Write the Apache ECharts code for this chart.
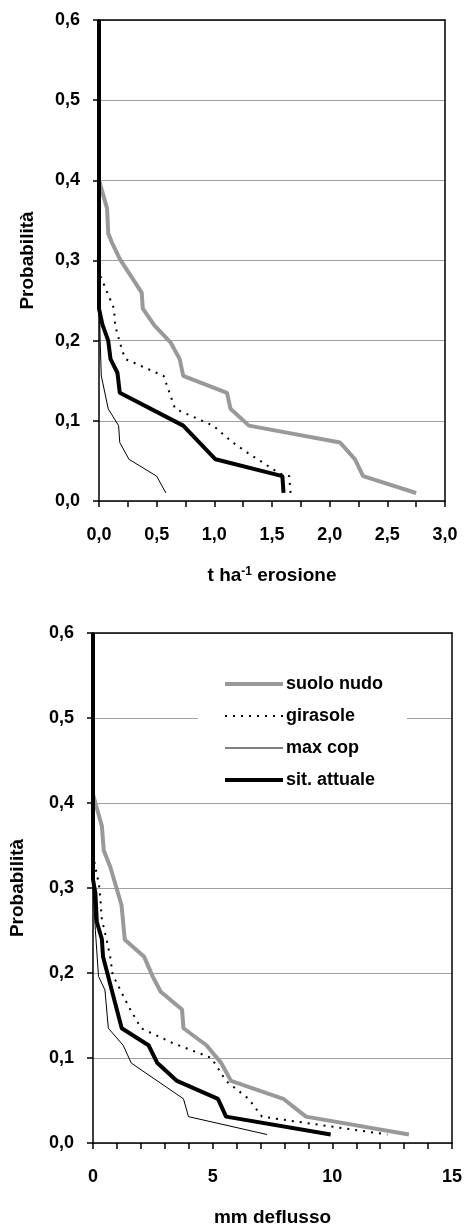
<!DOCTYPE html>
<html>
<head>
<meta charset="utf-8">
<script src="https://cdn.jsdelivr.net/npm/echarts@6/dist/echarts.min.js"></script>
<style>
    html, body { margin: 0; padding: 0; background: #fff; }
    #chart-main { width: 466px; height: 1228px; }
</style>
</head>
<body>
<div id="chart-main"></div>
<script>
// serie nomi (legenda)
var seriesNames = ["suolo nudo", "girasole", "max cop", "sit. attuale"];

// grafico 1: t ha-1 erosione / probabilita
var erosioneSuoloNudo = [[0, 0.40], [0.03, 0.385], [0.07, 0.365], [0.08, 0.334], [0.11, 0.323], [0.18, 0.302], [0.37, 0.26], [0.38, 0.24], [0.48, 0.219], [0.62, 0.198], [0.70, 0.177], [0.73, 0.156], [1.11, 0.135], [1.14, 0.115], [1.30, 0.094], [2.09, 0.073], [2.22, 0.052], [2.29, 0.031], [2.75, 0.010]];
var erosioneGirasole = [[0, 0.29], [0.01, 0.281], [0.04, 0.271], [0.13, 0.24], [0.14, 0.219], [0.20, 0.188], [0.23, 0.177], [0.56, 0.156], [0.66, 0.115], [0.99, 0.094], [1.16, 0.073], [1.29, 0.06], [1.57, 0.034], [1.65, 0.031], [1.66, 0.010]];
var erosioneMaxCop = [[0, 0.28], [0.01, 0.20], [0.02, 0.156], [0.08, 0.115], [0.17, 0.094], [0.18, 0.073], [0.26, 0.052], [0.50, 0.031], [0.58, 0.010]];
var erosioneSitAttuale = [[0, 0.6], [0, 0.24], [0.03, 0.22], [0.08, 0.20], [0.10, 0.177], [0.16, 0.16], [0.18, 0.135], [0.73, 0.094], [1.01, 0.052], [1.59, 0.031], [1.60, 0.010]];

// grafico 2: mm deflusso / probabilita
var deflussoSuoloNudo = [[0, 0.44], [0, 0.41], [0.1, 0.40], [0.37, 0.373], [0.45, 0.344], [0.72, 0.325], [1.19, 0.28], [1.33, 0.239], [2.14, 0.219], [2.49, 0.196], [2.83, 0.178], [3.72, 0.157], [3.78, 0.135], [4.74, 0.115], [5.36, 0.094], [5.77, 0.073], [7.95, 0.052], [8.9, 0.031], [13.2, 0.010]];
var deflussoGirasole = [[0, 0.34], [0.1, 0.324], [0.25, 0.304], [0.3, 0.29], [0.37, 0.263], [0.57, 0.239], [0.72, 0.219], [0.82, 0.198], [1.5, 0.16], [2.01, 0.135], [3.3, 0.118], [4.95, 0.10], [5.56, 0.073], [6.5, 0.052], [7.06, 0.031], [12.3, 0.010]];
var deflussoMaxCop = [[0, 0.30], [0.1, 0.25], [0.23, 0.196], [0.5, 0.18], [0.64, 0.135], [1.26, 0.115], [1.6, 0.094], [3.78, 0.052], [3.99, 0.031], [7.27, 0.010]];
var deflussoSitAttuale = [[0, 0.6], [0, 0.31], [0.1, 0.294], [0.16, 0.26], [0.37, 0.24], [0.42, 0.219], [1.2, 0.135], [2.32, 0.115], [2.69, 0.094], [3.51, 0.073], [5.22, 0.052], [5.56, 0.031], [9.93, 0.010]];

// assi
var yTicks = { min: 0, max: 0.6, interval: 0.1 };
var xTicksErosione = { min: 0, max: 3, interval: 0.5, minor: 2 };
var xTicksDeflusso = { min: 0, max: 15, interval: 5, minor: 5 };

var FONT = "'Liberation Sans', Arial, sans-serif";

function virgola(v) {
    return v.toFixed(1).replace(".", ",");
}

function lineStyles() {
    return [
        { color: "#999999", width: 4, type: "solid" },
        { color: "#000000", width: 2, type: [2, 6] },
        { color: "#000000", width: 1, type: "solid" },
        { color: "#000000", width: 4, type: "solid" }
    ];
}

function makeSeries(dataList, gridIdx) {
    var styles = lineStyles();
    return dataList.map((d, i) => {
        return {
            name: seriesNames[i],
            type: "line",
            xAxisIndex: gridIdx * 2,
            yAxisIndex: gridIdx * 2,
            data: d,
            symbol: "none",
            silent: true,
            lineStyle: styles[i],
            itemStyle: { color: styles[i].color },
            animation: false
        };
    });
}

function makeXAxis(gridIdx, conf, labelFn, name) {
    return [{
        gridIndex: gridIdx,
        type: "value",
        min: conf.min,
        max: conf.max,
        interval: conf.interval,
        position: "bottom",
        name: name,
        nameLocation: "middle",
        nameGap: 65,
        nameTextStyle: {
            fontFamily: FONT, fontWeight: "bold", fontSize: 19, color: "#000",
            rich: {
                sup: { fontFamily: FONT, fontWeight: "bold", fontSize: 12, color: "#000", verticalAlign: "top", lineHeight: 12 }
            }
        },
        axisLine: { show: true, lineStyle: { color: "#000", width: 1.5 } },
        axisTick: { show: true, inside: false, length: 6, lineStyle: { color: "#000", width: 1.5 } },
        minorTick: { show: true, splitNumber: conf.minor, length: 6, lineStyle: { color: "#000", width: 1.5 } },
        axisLabel: { margin: 25, fontFamily: FONT, fontWeight: "bold", fontSize: 18, color: "#000", formatter: labelFn },
        splitLine: { show: false }
    }, {
        gridIndex: gridIdx,
        type: "value",
        min: conf.min,
        max: conf.max,
        position: "top",
        axisLine: { show: true, onZero: false, lineStyle: { color: "#000", width: 1.5 } },
        axisTick: { show: false },
        axisLabel: { show: false },
        splitLine: { show: false }
    }];
}

function makeYAxis(gridIdx, gap) {
    return [{
        gridIndex: gridIdx,
        type: "value",
        min: yTicks.min,
        max: yTicks.max,
        interval: yTicks.interval,
        name: "Probabilità",
        nameLocation: "middle",
        nameGap: gap,
        nameTextStyle: { fontFamily: FONT, fontWeight: "bold", fontSize: 19, color: "#000" },
        axisLine: { show: true, lineStyle: { color: "#000", width: 1.5 } },
        axisTick: { show: true, inside: false, length: 6, lineStyle: { color: "#000", width: 1.5 } },
        axisLabel: { margin: 19, fontFamily: FONT, fontWeight: "bold", fontSize: 18, color: "#000", formatter: virgola },
        splitLine: { show: true, lineStyle: { color: "#a0a0a0", width: 1 } }
    }, {
        gridIndex: gridIdx,
        type: "value",
        min: yTicks.min,
        max: yTicks.max,
        position: "right",
        axisLine: { show: true, onZero: false, lineStyle: { color: "#000", width: 1.5 } },
        axisTick: { show: false },
        axisLabel: { show: false },
        splitLine: { show: false }
    }];
}

function InitChart() {
    var chartDom = document.getElementById("chart-main");
    var myChart = echarts.init(chartDom, null, { renderer: "canvas" });
    var styles = lineStyles();
    var option;

    option = {
        backgroundColor: "#fff",
        animation: false,
        textStyle: { fontFamily: FONT },
        grid: [
            { left: 99, top: 20, width: 346, height: 481 },
            { left: 86, top: 633, width: 366, height: 510 }
        ],
        legend: {
            // solo la linea, niente simbolo
            data: seriesNames.map((n, i) => ({ name: n, lineStyle: styles[i] })),
            orient: "vertical",
            left: 198,
            top: 669,
            padding: [6, 24, 6, 25],
            backgroundColor: "#fff",
            itemWidth: 58,
            itemHeight: 14,
            itemGap: 14,
            selectedMode: false,
            itemStyle: { opacity: 0 },
            textStyle: { fontFamily: FONT, fontWeight: "bold", fontSize: 18, color: "#000", padding: [0, 0, 0, -2] }
        },
        xAxis: makeXAxis(0, xTicksErosione, virgola, "t ha{sup|-1} erosione")
            .concat(makeXAxis(1, xTicksDeflusso, v => String(v), "mm deflusso")),
        yAxis: makeYAxis(0, 62).concat(makeYAxis(1, 66)),
        series: makeSeries([erosioneSuoloNudo, erosioneGirasole, erosioneMaxCop, erosioneSitAttuale], 0)
            .concat(makeSeries([deflussoSuoloNudo, deflussoGirasole, deflussoMaxCop, deflussoSitAttuale], 1))
    };

    myChart.setOption(option);
}

InitChart();
</script>
</body>
</html>
